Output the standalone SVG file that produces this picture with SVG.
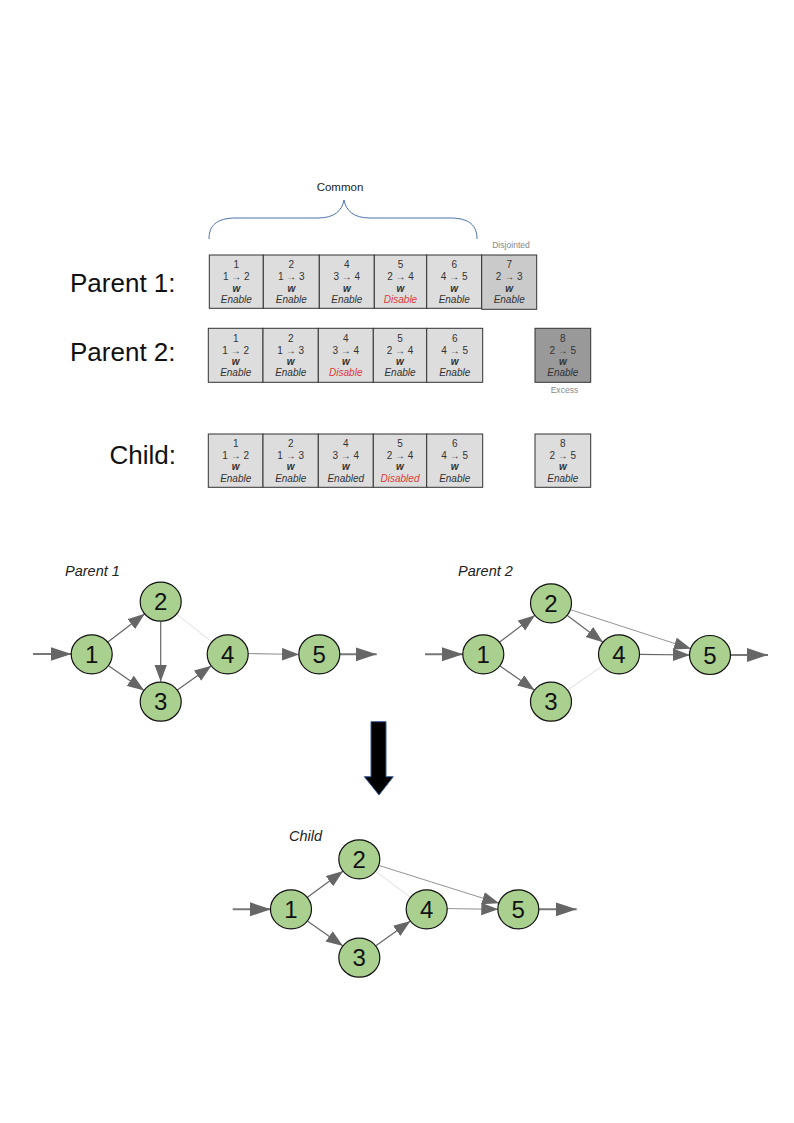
<svg xmlns="http://www.w3.org/2000/svg" width="794" height="1123" viewBox="0 0 794 1123">
<defs>
<marker id="ah" markerUnits="userSpaceOnUse" markerWidth="18" markerHeight="13" refX="17" refY="6.25" orient="auto" viewBox="0 0 18 13">
<path d="M0,0 L17,6.25 L0,12.5 z" fill="#666"/>
</marker>
<marker id="ahb" markerUnits="userSpaceOnUse" markerWidth="22" markerHeight="15" refX="21" refY="7" orient="auto" viewBox="0 0 22 15">
<path d="M0,0 L21,7 L0,14 z" fill="#666"/>
</marker>
</defs>
<style>
text{font-family:"Liberation Sans",Arial,sans-serif}
.lbl{font-size:26px;fill:#111}
.gt{font-size:10px;fill:#333;text-anchor:middle}
.w{font-weight:bold;font-style:italic}
.it{font-style:italic}
.red{fill:#e03a3a}
.box{fill:#dddddd;stroke:#333;stroke-width:1}
.small{font-size:8.6px;fill:#888;text-anchor:middle}
.node ellipse{fill:#a9d08e;stroke:#111;stroke-width:1.2}
.node text{font-size:24px;fill:#111;text-anchor:middle}
.e{stroke:#666;stroke-width:1.2;fill:none;marker-end:url(#ah)}
.thin{stroke:#777;stroke-width:0.8;fill:none;marker-end:url(#ah)}
.io{stroke:#777;stroke-width:2;fill:none;marker-end:url(#ahb)}
.dis{stroke:#d4d4d4;stroke-width:0.8;fill:none}
.cap{font-size:14.5px;font-style:italic;fill:#222}
</style>

<text class="lbl" x="70" y="292">Parent 1:</text>
<text class="lbl" x="70" y="361">Parent 2:</text>
<text class="lbl" x="176" y="464" text-anchor="end">Child:</text>

<g id="brace">
<text x="340" y="191" style="font-size:11.5px;fill:#222" text-anchor="middle">Common</text>
<path d="M209,239 C209,226 216,218 236,218 L318,218 C334,218 342,211 344,200 C346,211 354,218 370,218 L450,218 C470,218 477,226 477,239" fill="none" stroke="#4a72b0" stroke-width="1"/>
</g>
<text class="small" x="511" y="248">Disjointed</text>
<text class="small" x="564.5" y="393">Excess</text>

<g id="p1-genes">
<g id="p1g1"><rect class="box" x="209.3" y="255" width="54" height="53.3"/><text class="gt" x="236.3" y="268">1</text><text class="gt" x="236.3" y="280">1 → 2</text><text class="gt w" x="236.3" y="291.5">w</text><text class="gt it" x="236.3" y="303">Enable</text></g>
<g id="p1g2"><rect class="box" x="263.3" y="255" width="56" height="53.3"/><text class="gt" x="291.3" y="268">2</text><text class="gt" x="291.3" y="280">1 → 3</text><text class="gt w" x="291.3" y="291.5">w</text><text class="gt it" x="291.3" y="303">Enable</text></g>
<g id="p1g4"><rect class="box" x="319.3" y="255" width="55" height="53.3"/><text class="gt" x="346.8" y="268">4</text><text class="gt" x="346.8" y="280">3 → 4</text><text class="gt w" x="346.8" y="291.5">w</text><text class="gt it" x="346.8" y="303">Enable</text></g>
<g id="p1g5"><rect class="box" x="374.3" y="255" width="52.4" height="53.3"/><text class="gt" x="400.5" y="268">5</text><text class="gt" x="400.5" y="280">2 → 4</text><text class="gt w" x="400.5" y="291.5">w</text><text class="gt it red" x="400.5" y="303">Disable</text></g>
<g id="p1g6"><rect class="box" x="426.7" y="255" width="55" height="53.3"/><text class="gt" x="454.2" y="268">6</text><text class="gt" x="454.2" y="280">4 → 5</text><text class="gt w" x="454.2" y="291.5">w</text><text class="gt it" x="454.2" y="303">Enable</text></g>
<g id="p1g7"><rect class="box" x="481.7" y="255" width="55" height="54.3" style="fill:#cacaca"/><text class="gt" x="509.2" y="268">7</text><text class="gt" x="509.2" y="280">2 → 3</text><text class="gt w" x="509.2" y="291.5">w</text><text class="gt it" x="509.2" y="303">Enable</text></g>
</g>

<g id="p2-genes">
<g id="p2g1"><rect class="box" x="208.3" y="328.3" width="54.7" height="54"/><text class="gt" x="235.7" y="341.8">1</text><text class="gt" x="235.7" y="353.5">1 → 2</text><text class="gt w" x="235.7" y="364.8">w</text><text class="gt it" x="235.7" y="376">Enable</text></g>
<g id="p2g2"><rect class="box" x="263" y="328.3" width="55.3" height="54"/><text class="gt" x="290.7" y="341.8">2</text><text class="gt" x="290.7" y="353.5">1 → 3</text><text class="gt w" x="290.7" y="364.8">w</text><text class="gt it" x="290.7" y="376">Enable</text></g>
<g id="p2g4"><rect class="box" x="318.3" y="328.3" width="55" height="54"/><text class="gt" x="345.8" y="341.8">4</text><text class="gt" x="345.8" y="353.5">3 → 4</text><text class="gt w" x="345.8" y="364.8">w</text><text class="gt it red" x="345.8" y="376">Disable</text></g>
<g id="p2g5"><rect class="box" x="373.3" y="328.3" width="53.4" height="54"/><text class="gt" x="400" y="341.8">5</text><text class="gt" x="400" y="353.5">2 → 4</text><text class="gt w" x="400" y="364.8">w</text><text class="gt it" x="400" y="376">Enable</text></g>
<g id="p2g6"><rect class="box" x="426.7" y="328.3" width="56" height="54"/><text class="gt" x="454.7" y="341.8">6</text><text class="gt" x="454.7" y="353.5">4 → 5</text><text class="gt w" x="454.7" y="364.8">w</text><text class="gt it" x="454.7" y="376">Enable</text></g>
<g id="p2g8"><rect class="box" x="535" y="328.3" width="55.7" height="54" style="fill:#999999"/><text class="gt" x="562.8" y="341.8">8</text><text class="gt" x="562.8" y="353.5">2 → 5</text><text class="gt w" x="562.8" y="364.8">w</text><text class="gt it" x="562.8" y="376">Enable</text></g>
</g>

<g id="child-genes">
<g id="cg1"><rect class="box" x="208.3" y="434" width="54.7" height="53.3"/><text class="gt" x="235.7" y="447.3">1</text><text class="gt" x="235.7" y="459">1 → 2</text><text class="gt w" x="235.7" y="470.3">w</text><text class="gt it" x="235.7" y="481.5">Enable</text></g>
<g id="cg2"><rect class="box" x="263" y="434" width="55.3" height="53.3"/><text class="gt" x="290.7" y="447.3">2</text><text class="gt" x="290.7" y="459">1 → 3</text><text class="gt w" x="290.7" y="470.3">w</text><text class="gt it" x="290.7" y="481.5">Enable</text></g>
<g id="cg4"><rect class="box" x="318.3" y="434" width="55" height="53.3"/><text class="gt" x="345.8" y="447.3">4</text><text class="gt" x="345.8" y="459">3 → 4</text><text class="gt w" x="345.8" y="470.3">w</text><text class="gt it" x="345.8" y="481.5">Enabled</text></g>
<g id="cg5"><rect class="box" x="373.3" y="434" width="53.4" height="53.3"/><text class="gt" x="400" y="447.3">5</text><text class="gt" x="400" y="459">2 → 4</text><text class="gt w" x="400" y="470.3">w</text><text class="gt it red" x="400" y="481.5">Disabled</text></g>
<g id="cg6"><rect class="box" x="426.7" y="434" width="56" height="53.3"/><text class="gt" x="454.7" y="447.3">6</text><text class="gt" x="454.7" y="459">4 → 5</text><text class="gt w" x="454.7" y="470.3">w</text><text class="gt it" x="454.7" y="481.5">Enable</text></g>
<g id="cg8"><rect class="box" x="535" y="434" width="55.7" height="53.3"/><text class="gt" x="562.8" y="447.3">8</text><text class="gt" x="562.8" y="459">2 → 5</text><text class="gt w" x="562.8" y="470.3">w</text><text class="gt it" x="562.8" y="481.5">Enable</text></g>
</g>

<text class="cap" x="65" y="576">Parent 1</text>
<text class="cap" x="458" y="576">Parent 2</text>
<text class="cap" x="289" y="841">Child</text>

<g id="connectors">
<!-- Parent 1 -->
<line class="io" x1="33" y1="654" x2="71.5" y2="654"/>
<line class="e" x1="107.6" y1="642.2" x2="144.8" y2="613.8"/>
<line class="e" x1="108.2" y1="665.6" x2="144.2" y2="690.4"/>
<line class="e" x1="160.7" y1="621.7" x2="160.7" y2="681.7"/>
<line class="e" x1="177" y1="690.2" x2="211.4" y2="665.8"/>
<line class="dis" x1="176.4" y1="614" x2="212" y2="642"/>
<line class="e" x1="247.7" y1="653.5" x2="299" y2="654.5" style="stroke:#999"/>
<line class="io" x1="339.5" y1="654.3" x2="376.7" y2="654.3"/>
<!-- Parent 2 -->
<line class="io" x1="425" y1="654.3" x2="463" y2="654.3"/>
<line class="e" x1="499.3" y1="642.3" x2="535" y2="615.3"/>
<line class="e" x1="499.7" y1="665.8" x2="534.6" y2="690.2"/>
<line class="e" x1="567" y1="615.3" x2="603" y2="642.3"/>
<line class="thin" x1="570" y1="609.5" x2="691" y2="648.8"/>
<line class="e" x1="639" y1="654.4" x2="690" y2="655"/>
<line class="dis" x1="567.4" y1="690.3" x2="602.6" y2="665.7"/>
<line class="io" x1="730" y1="655" x2="768" y2="655"/>
<!-- Child -->
<line class="io" x1="232.7" y1="909.3" x2="271" y2="909.3"/>
<line class="e" x1="307.1" y1="897.5" x2="343.2" y2="871.1"/>
<line class="e" x1="307.3" y1="920.9" x2="343" y2="946.1"/>
<line class="e" x1="375.5" y1="946" x2="410.5" y2="921"/>
<line class="dis" x1="375.4" y1="871.2" x2="410.6" y2="897.4"/>
<line class="thin" x1="378.4" y1="865.3" x2="499.2" y2="903.3"/>
<line class="e" x1="446.7" y1="908.5" x2="498.3" y2="909.3" style="stroke:#999"/>
<line class="io" x1="538.3" y1="909.3" x2="576.7" y2="909.3"/>
</g>

<g id="p1-n1" class="node"><ellipse cx="91.7" cy="654.3" rx="20.5" ry="19.5"/><text x="91.7" y="662.8">1</text></g>
<g id="p1-n2" class="node"><ellipse cx="160.7" cy="601.7" rx="20.5" ry="19.5"/><text x="160.7" y="610.2">2</text></g>
<g id="p1-n3" class="node"><ellipse cx="160.7" cy="701.7" rx="20.5" ry="19.5"/><text x="160.7" y="710.2">3</text></g>
<g id="p1-n4" class="node"><ellipse cx="227.7" cy="654.3" rx="20.5" ry="19.5"/><text x="227.7" y="662.8">4</text></g>
<g id="p1-n5" class="node"><ellipse cx="319.3" cy="654.3" rx="20.5" ry="19.5"/><text x="319.3" y="662.8">5</text></g>

<g id="p2-n1" class="node"><ellipse cx="483.3" cy="654.3" rx="20.5" ry="19.5"/><text x="483.3" y="662.8">1</text></g>
<g id="p2-n2" class="node"><ellipse cx="551" cy="603.3" rx="20.5" ry="19.5"/><text x="551" y="611.8">2</text></g>
<g id="p2-n3" class="node"><ellipse cx="551" cy="701.7" rx="20.5" ry="19.5"/><text x="551" y="710.2">3</text></g>
<g id="p2-n4" class="node"><ellipse cx="619" cy="654.3" rx="20.5" ry="19.5"/><text x="619" y="662.8">4</text></g>
<g id="p2-n5" class="node"><ellipse cx="710" cy="655" rx="20.5" ry="19.5"/><text x="710" y="663.5">5</text></g>

<g id="c-n1" class="node"><ellipse cx="291" cy="909.3" rx="20.5" ry="19.5"/><text x="291" y="917.8">1</text></g>
<g id="c-n2" class="node"><ellipse cx="359.3" cy="859.3" rx="20.5" ry="19.5"/><text x="359.3" y="867.8">2</text></g>
<g id="c-n3" class="node"><ellipse cx="359.3" cy="957.7" rx="20.5" ry="19.5"/><text x="359.3" y="966.2">3</text></g>
<g id="c-n4" class="node"><ellipse cx="426.7" cy="909.3" rx="20.5" ry="19.5"/><text x="426.7" y="917.8">4</text></g>
<g id="c-n5" class="node"><ellipse cx="518.3" cy="909.3" rx="20.5" ry="19.5"/><text x="518.3" y="917.8">5</text></g>

<g id="big-arrow">
<path d="M371,721.7 L386,721.7 L386,776.7 L393.3,776.7 L379,795 L364.3,776.7 L371,776.7 z" fill="#000" stroke="#3a5a9a" stroke-width="1"/>
</g>
</svg>
